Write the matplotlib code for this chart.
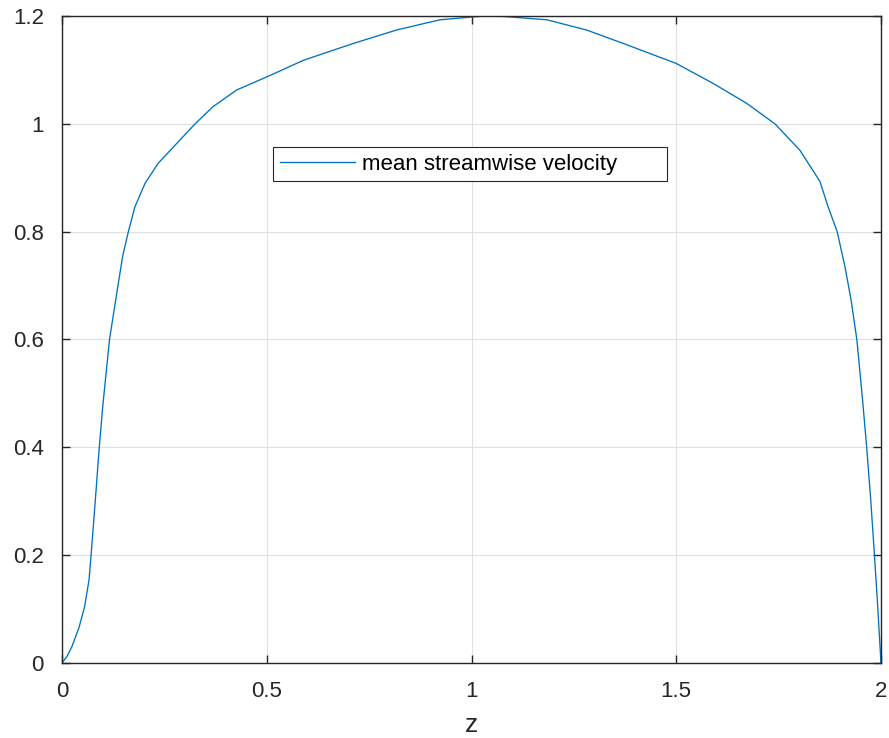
import matplotlib

matplotlib.use('Agg')
import matplotlib.pyplot as plt
from matplotlib.ticker import FormatStrFormatter

# mean streamwise velocity profile
z = [0, 0.012, 0.024, 0.042, 0.055, 0.066, 0.071, 0.079, 0.085, 0.091,
     0.100, 0.116, 0.135, 0.148, 0.162, 0.178, 0.203, 0.235, 0.288, 0.325,
     0.369, 0.427, 0.5, 0.59, 0.711, 0.817, 0.923, 1.0, 1.03, 1.08,
     1.184, 1.281, 1.371, 1.5, 1.590, 1.672, 1.741, 1.802, 1.851, 1.870,
     1.893, 1.912, 1.927, 1.941, 1.955, 1.965, 1.975, 1.984, 1.991, 2.0]
u = [0, 0.012, 0.030, 0.067, 0.104, 0.154, 0.2, 0.278, 0.339, 0.4,
     0.48, 0.6, 0.692, 0.754, 0.8, 0.846, 0.890, 0.927, 0.970, 1.0,
     1.032, 1.063, 1.087, 1.118, 1.149, 1.174, 1.193, 1.198, 1.2, 1.199,
     1.193, 1.174, 1.149, 1.112, 1.075, 1.038, 1.0, 0.951, 0.893, 0.848,
     0.8, 0.735, 0.673, 0.6, 0.488, 0.4, 0.302, 0.2, 0.117, 0.0]

xticks = [0, 0.5, 1, 1.5, 2]
yticks = [0, 0.2, 0.4, 0.6, 0.8, 1.0, 1.2]

plt.rcParams['font.family'] = ['Liberation Sans', 'DejaVu Sans']
plt.rcParams['xtick.direction'] = 'in'
plt.rcParams['ytick.direction'] = 'in'
plt.rcParams['xtick.top'] = True
plt.rcParams['ytick.right'] = True
plt.rcParams['font.size'] = 16

fig = plt.figure(figsize=(8.89, 7.38), dpi=100, facecolor='w')
ax = fig.add_axes([62 / 889, 75 / 738, 819 / 889, 647 / 738])

ax.plot(z, u, color='#0072BD', lw=0.95, label='mean streamwise velocity')

ax.set_xlim(0, 2)
ax.set_ylim(0, 1.2)
ax.set_xticks(xticks)
ax.set_yticks(yticks)
ax.xaxis.set_major_formatter(FormatStrFormatter('%g'))
ax.yaxis.set_major_formatter(FormatStrFormatter('%g'))
ax.tick_params(length=6, width=1.0, color='#262626', labelcolor='#262626',
               labelsize=16)
ax.tick_params(axis='x', pad=13)
ax.tick_params(axis='y', pad=13)
for s in ax.spines.values():
    s.set_color('#262626')
    s.set_linewidth(1.0)
ax.grid(True, color='#e0e0e0', lw=0.8)
ax.set_axisbelow(True)
ax.set_xlabel('z', fontsize=19, color='#262626', labelpad=8)

leg = ax.legend(loc='center', bbox_to_anchor=(0.2576, 0.7434, 0.4811, 0.0557),
                mode='expand', borderaxespad=0, fancybox=False,
                framealpha=1, edgecolor='#262626', fontsize=16,
                handlelength=3.4, handletextpad=0.3, borderpad=0.3)
leg.get_frame().set_linewidth(0.8)

fig.savefig('out.png', dpi=100)
